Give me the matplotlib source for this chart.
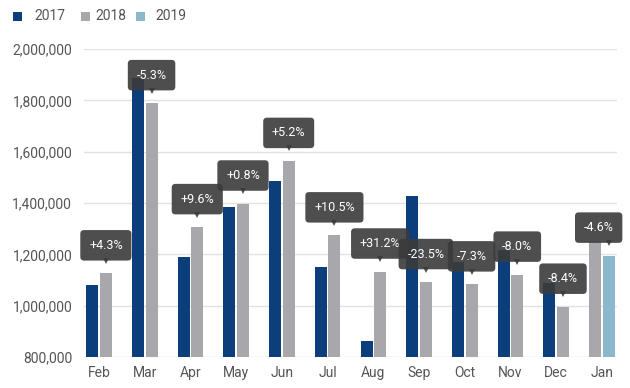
import matplotlib
matplotlib.use("Agg")
import matplotlib.pyplot as plt
from matplotlib.patches import Rectangle
from matplotlib.ticker import FuncFormatter
import matplotlib.transforms as mtransforms
import numpy as np

plt.rcParams['font.family'] = ['Roboto', 'DejaVu Sans']

months = ["Feb", "Mar", "Apr", "May", "Jun", "Jul", "Aug", "Sep", "Oct", "Nov", "Dec", "Jan"]
sales_2017 = [1080000, 1886000, 1191000, 1386000, 1487000, 1152000, 863000, 1428000, 1169000, 1217000, 1089000, None]
sales_2018 = [1126000, 1789000, 1306000, 1398000, 1564000, 1274000, 1133000, 1092000, 1083000, 1121000, 996000, 1253000]
sales_2019 = [None, None, None, None, None, None, None, None, None, None, None, 1195000]
changes = ["+4.3%", "-5.3%", "+9.6%", "+0.8%", "+5.2%", "+10.5%", "+31.2%", "-23.5%", "-7.3%", "-8.0%", "-8.4%", "-4.6%"]
years = ["2017", "2018", "2019"]
yticks = [800000, 1000000, 1200000, 1400000, 1600000, 1800000, 2000000]

colors = {"2017": "#0b3e7b", "2018": "#a8a8ac", "2019": "#8bb8cc"}
text_col = "#555555"

W, H = 630, 388
fig = plt.figure(figsize=(W / 100, H / 100), dpi=100)
ax = fig.add_axes([84 / W, 1 - 357 / H, (617 - 84) / W, (357 - 49) / H])

off = 0.148
bw = 0.262
x = np.arange(len(months))
for i, m in enumerate(months):
    if sales_2017[i] is not None:
        left, lc = sales_2017[i], colors["2017"]
        right, rc = sales_2018[i], colors["2018"]
    else:
        left, lc = sales_2018[i], colors["2018"]
        right, rc = sales_2019[i], colors["2019"]
    ax.bar(x[i] - off, left - 800000, bw, bottom=800000, color=lc, zorder=2)
    ax.bar(x[i] + off, right - 800000, bw, bottom=800000, color=rc, zorder=2)

    # tooltip
    dx = -10 if i == len(months) - 1 else 0
    ax.annotate(changes[i], xy=(x[i] + off, right), xytext=(dx, 28),
                textcoords="offset pixels", ha="center", va="center",
                fontsize=9, color="white", zorder=5,
                bbox=dict(boxstyle="round,pad=0.7,rounding_size=0.3",
                          fc="#3b3b3b", ec="none", alpha=0.9))
    tr = mtransforms.offset_copy(ax.transData, fig=fig, x=0, y=12.5, units="dots")
    ax.plot([x[i] + off], [right], marker="v", markersize=5, color="#3b3b3b",
            alpha=0.9, transform=tr, zorder=5, clip_on=False, markeredgewidth=0)

ax.set_xlim(-0.33, len(months) - 1 + 0.33)
ax.set_ylim(800000, 2000000)
ax.set_yticks(yticks)
ax.yaxis.set_major_formatter(FuncFormatter(lambda v, p: f"{int(v):,}"))
ax.set_xticks(x)
ax.set_xticklabels(months)
ax.grid(axis="y", color="#e2e2e2", linewidth=1, zorder=0)
ax.set_axisbelow(True)
for s in ax.spines.values():
    s.set_visible(False)
ax.tick_params(axis="both", length=0, labelsize=10, colors=text_col)
ax.tick_params(axis="y", pad=8.5)
ax.tick_params(axis="x", pad=6.5)

# legend
leg = [(13, 34), (81, 95), (136, 155)]
for (sx, tx), yr in zip(leg, years):
    fig.add_artist(Rectangle((sx / W, 1 - 21 / H), 9 / W, 9 / H,
                             transform=fig.transFigure, color=colors[yr], lw=0))
    fig.text(tx / W, 1 - 16.5 / H, yr, fontsize=10, color=text_col, va="center", ha="left")

fig.savefig("out.png", dpi=100)
